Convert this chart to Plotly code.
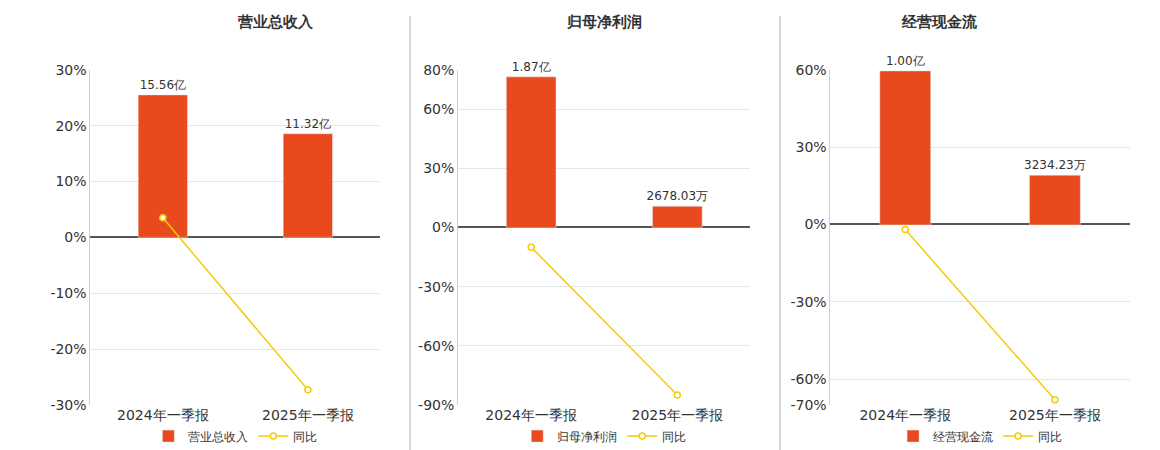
import plotly.graph_objects as go

periods = ["2024年一季报", "2025年一季报"]
titles = ["营业总收入", "归母净利润", "经营现金流"]
bar_values = [[15.56, 11.32], [1.87, 0.267803], [1.00, 0.323423]]
bar_labels = [["15.56亿", "11.32亿"], ["1.87亿", "2678.03万"], ["1.00亿", "3234.23万"]]
yoy = [[3.5, -27.3], [-10.0, -85.0], [-2.0, -68.0]]
pct_ranges = [[-30, 30], [-90, 80], [-70, 60]]
pct_ticks = [[-30, -20, -10, 0, 10, 20, 30], [-90, -60, -30, 0, 30, 60, 80], [-70, -60, -30, 0, 30, 60]]
bar_ranges = [[-18.3, 18.3], [-2.19, 1.957], [-1.167, 1.007]]

bar_color = "#E8491D"
line_color = "#F2CC0C"
domains = [[0.071, 0.321], [0.388, 0.640], [0.709, 0.967]]

fig = go.Figure()
for i in range(3):
    n = i + 1
    xa = "x" if n == 1 else "x%d" % n
    yb = "y" if n == 1 else "y%d" % n
    yl = "y%d" % (n + 3)
    lg = "legend" if n == 1 else "legend%d" % n
    fig.add_trace(go.Bar(x=periods, y=bar_values[i], text=bar_labels[i], textposition="outside",
                         constraintext="none",
                         textfont=dict(size=12, color="#333"), marker_color=bar_color, width=0.34,
                         name=titles[i], xaxis=xa, yaxis=yb, legend=lg, cliponaxis=False))
    fig.add_trace(go.Scatter(x=periods, y=yoy[i], mode="lines+markers", name="同比",
                             line=dict(color=line_color, width=1.5),
                             marker=dict(symbol="circle", size=6, color="white",
                                         line=dict(color=line_color, width=1.5)),
                             xaxis=xa, yaxis=yl, legend=lg))
    fig.layout["xaxis" if n == 1 else "xaxis%d" % n] = dict(
        domain=domains[i], anchor=yb, showgrid=False, tickfont=dict(size=14, color="#333"),
        showline=False, ticks="")
    fig.layout["yaxis" if n == 1 else "yaxis%d" % n] = dict(
        domain=[0.104, 0.876], anchor=xa, range=bar_ranges[i], showgrid=False,
        showticklabels=False, zeroline=False)
    fig.layout["yaxis%d" % (n + 3)] = dict(
        overlaying=yb, anchor=xa, side="left", range=pct_ranges[i], tickvals=pct_ticks[i],
        ticktext=["%d%%" % v for v in pct_ticks[i]], tickfont=dict(size=14, color="#333"),
        showgrid=True, gridcolor="#E3E6EE", zeroline=True, zerolinecolor="#555", zerolinewidth=1.5,
        showline=True, linecolor="#D0D0D0", ticks="")
    cx = (domains[i][0] + domains[i][1]) / 2
    fig.layout[lg] = dict(orientation="h", x=cx, xanchor="center", y=0.032, yanchor="middle",
                          font=dict(size=12, color="#333"), bgcolor="rgba(0,0,0,0)")
    fig.add_annotation(text="<b>%s</b>" % titles[i], x=cx, y=0.986, xref="paper", yref="paper",
                       yanchor="middle", showarrow=False, font=dict(size=15, color="#333"))

for xs in [0.3466, 0.6655]:
    fig.add_shape(type="line", x0=xs, x1=xs, y0=0.0, y1=1.0, xref="paper", yref="paper",
                  line=dict(color="#AAAAAA", width=1))

fig.update_layout(width=1160, height=450, margin=dict(l=0, r=0, t=0, b=0),
                  plot_bgcolor="white", paper_bgcolor="white", showlegend=True,
                  font=dict(family="DejaVu Sans"))
fig.write_html("out.html")
